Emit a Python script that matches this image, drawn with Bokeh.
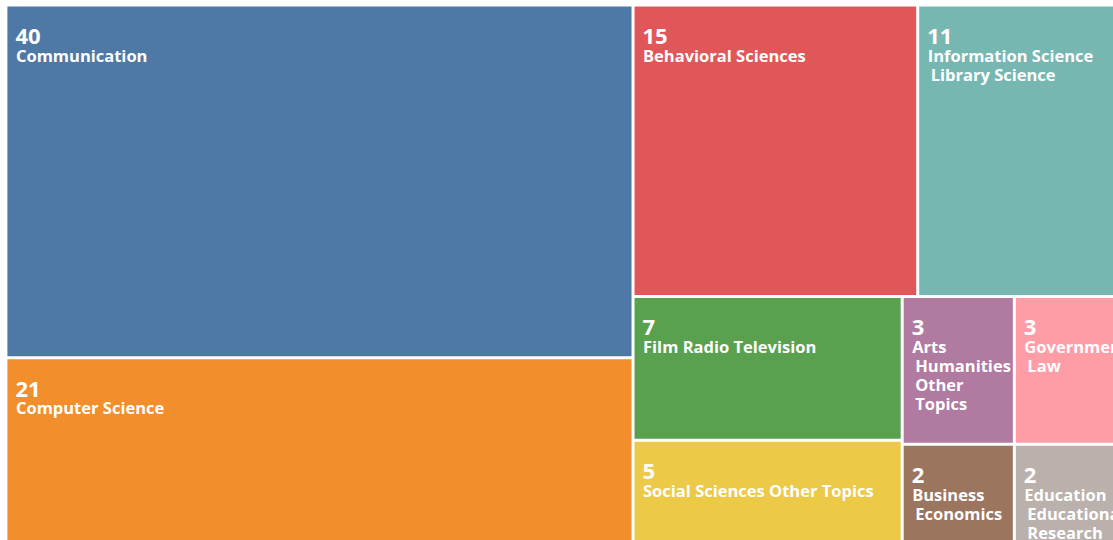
from bokeh.plotting import figure
from bokeh.models import Range1d, ColumnDataSource
from bokeh.core.properties import value
from bokeh.embed import file_html
from bokeh.resources import INLINE

# ---- data ----
categories = [
    "Communication", "Computer Science", "Behavioral Sciences",
    "Information Science\nLibrary Science", "Film Radio Television",
    "Social Sciences Other Topics", "Arts\nHumanities\nOther\nTopics",
    "Government\nLaw", "Business\nEconomics",
    "Education\nEducational\nResearch",
]
counts = [40, 21, 15, 11, 7, 5, 3, 3, 2, 2]
palette = ["#4e79a7", "#f28e2b", "#e15759", "#76b7b2", "#59a14f",
           "#edc948", "#b07aa1", "#ff9da7", "#9c755f", "#bab0ac"]

W, H = 1113, 540
# treemap region (screen px); it extends past the visible frame
L, T, R, B = 5.4, 4.5, 1126.0, 542.5
PAD = 1.5
PHI = (1 + 5 ** 0.5) / 2


def squarify(vals, x0, y0, x1, y1, ratio=PHI):
    rects = []
    n = len(vals)
    total = float(sum(vals))
    i0 = 0
    while i0 < n:
        dx, dy = x1 - x0, y1 - y0
        s = mn = mx = vals[i0]
        i1 = i0 + 1
        alpha = max(dy / dx, dx / dy) / (total * ratio)
        beta = s * s * alpha
        min_ratio = max(mx / beta, beta / mn)
        while i1 < n:
            nv = vals[i1]
            s2 = s + nv
            mn2, mx2 = min(mn, nv), max(mx, nv)
            beta = s2 * s2 * alpha
            new_ratio = max(mx2 / beta, beta / mn2)
            if new_ratio > min_ratio:
                break
            s, mn, mx, min_ratio = s2, mn2, mx2, new_ratio
            i1 += 1
        row = vals[i0:i1]
        if dx < dy:
            yk = y0 + dy * s / total
            xx = x0
            for v in row:
                w = dx * v / s
                rects.append((xx, y0, xx + w, yk))
                xx += w
            y0 = yk
        else:
            xk = x0 + dx * s / total
            yy = y0
            for v in row:
                h = dy * v / s
                rects.append((x0, yy, xk, yy + h))
                yy += h
            x0 = xk
        total -= s
        i0 = i1
    return rects


rects = squarify(counts, L, T, R, B)

quad_src = ColumnDataSource(dict(
    left=[r[0] + PAD for r in rects], right=[r[2] - PAD for r in rects],
    top=[r[1] + PAD for r in rects], bottom=[r[3] - PAD for r in rects],
    color=palette,
))

num_src = ColumnDataSource(dict(
    x=[r[0] + 9.5 for r in rects], y=[r[1] + 31.5 for r in rects],
    text=[str(c) for c in counts],
))

lx, ly, lt = [], [], []
for r, lab in zip(rects, categories):
    for i, line in enumerate(lab.split("\n")):
        lx.append(r[0] + 10 + (3 if i > 0 else 0))
        ly.append(r[1] + 50 + 19 * i)
        lt.append(line)
lab_src = ColumnDataSource(dict(x=lx, y=ly, text=lt))

p = figure(width=W, height=H, output_backend="svg", toolbar_location=None,
           x_range=Range1d(0, W), y_range=Range1d(H, 0),
           min_border=0)
p.axis.visible = False
p.grid.visible = False
p.outline_line_color = None
p.background_fill_color = "white"
p.border_fill_color = "white"

p.quad(left="left", right="right", top="top", bottom="bottom",
       fill_color="color", line_color=None, source=quad_src)

p.text(x="x", y="y", text="text", source=num_src, text_color="white",
       text_font=value("Open Sans"), text_font_style="bold",
       text_font_size="22px", text_baseline="alphabetic", text_align="left")
p.text(x="x", y="y", text="text", source=lab_src, text_color="white",
       text_font=value("Open Sans"), text_font_style="bold",
       text_font_size="16.5px", text_baseline="alphabetic", text_align="left")

open("out.html", "w").write(file_html(p, INLINE))
